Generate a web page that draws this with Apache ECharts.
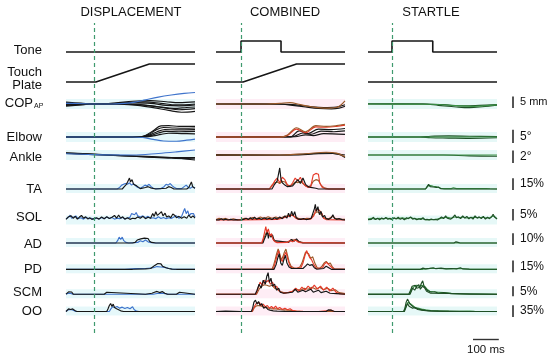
<!DOCTYPE html>
<html><head><meta charset="utf-8">
<script src="https://cdn.jsdelivr.net/npm/echarts@6/dist/echarts.min.js"></script>
<style>html,body{margin:0;padding:0;background:#fff}#c{width:550px;height:358px}</style>
</head><body><div id="c"></div>
<script>
// ---------------- labels ----------------
const panelTitles = ['DISPLACEMENT', 'COMBINED', 'STARTLE'];
const rowKeys = ['Tone', 'Plate', 'COP', 'Elbow', 'Ankle', 'TA', 'SOL', 'AD', 'PD', 'SCM', 'OO'];
const scaleRows = ['COP', 'Elbow', 'Ankle', 'TA', 'SOL', 'AD', 'PD', 'SCM', 'OO'];
const scaleValues = [5, 5, 2, 15, 5, 10, 15, 5, 35];
const scaleLabels = ['5 mm', '5°', '2°', '15%', '5%', '10%', '15%', '5%', '35%'];
const timeBarMs = 100;
const timeBarLabel = '100 ms';

// ---------------- DISPLACEMENT (time in ms from stimulus) ----------------
const disp_Tone = [[[-108,0],[392,0]]];
const disp_Plate = [[[-108,0],[8,0],[215,1],[392,1]]];
const disp_COP = [
  [[-108,0.8],[-50,0.4],[0,0],[80,0.4],[150,1.2],[220,1.5],[280,1.0],[330,0.6],[392,0.9]],
  [[-108,-0.6],[-50,-0.3],[0,0],[80,0.2],[150,0.5],[220,0.3],[280,-0.6],[330,-0.8],[392,-0.4]],
  [[-108,-0.9],[-50,-0.4],[0,0],[80,0],[150,-0.2],[220,-0.8],[280,-1.8],[330,-2.5],[392,-2.0]],
  [[-108,0.2],[-50,0.1],[0,0],[100,-0.1],[170,-0.6],[230,-1.6],[290,-2.8],[340,-3.6],[392,-3.2]],
  [[-108,-0.3],[0,0],[100,0.1],[180,-0.3],[250,-1.2],[310,-1.9],[360,-1.5],[392,-1.3]],
  [[-108,0.4],[0,0],[120,0.5],[200,0.9],[260,0.3],[320,-0.4],[392,0.0]],
  [[-108,0.3],[-60,0.2],[0,0],[60,0],[120,0.3],[160,0.8],[200,1.8],[250,3.0],[300,3.9],[350,4.6],[392,5.0]]
];
const disp_Elbow = [
  [[-108,0],[170,0],[200,0.6],[230,2.4],[260,4.2],[290,4.3],[330,4.0],[392,4.0]],
  [[-108,0],[175,0],[210,0.8],[240,2.6],[270,3.6],[310,3.4],[350,3.3],[392,3.4]],
  [[-108,0],[180,0],[215,0.7],[245,2.0],[275,2.8],[320,2.7],[392,2.8]],
  [[-108,0],[185,0],[220,0.5],[250,1.5],[280,2.1],[330,2.0],[392,2.1]],
  [[-108,0],[190,0],[230,0.4],[260,1.0],[290,1.4],[340,1.3],[392,1.2]],
  [[-108,0],[150,0],[190,-0.2],[230,-0.9],[270,-1.5],[320,-1.6],[360,-1.2],[392,-0.8]]
];
const disp_Ankle = [
  [[-108,0.3],[0,0.1],[100,-0.1],[200,-0.3],[300,-0.5],[392,-0.6]],
  [[-108,0.35],[0,0.15],[100,-0.05],[200,-0.2],[300,-0.4],[392,-0.8]],
  [[-108,0.25],[0,0.05],[150,-0.2],[250,-0.4],[392,-0.4]],
  [[-108,0.2],[0,0.05],[150,0],[250,0.25],[320,0.5],[392,0.8]]
];
const disp_TA = [
  [[-108,0],[90,0],[100,2],[108,5],[115,3],[122,7],[130,6],[138,8],[146,5],[154,7],[162,4],[170,2],[180,1],[190,3],[198,5],[206,4],[214,6],[222,3],[230,1],[240,0.5],[260,0.5],[272,3],[280,6],[288,5],[296,7],[304,4],[312,2],[320,0.5],[340,0.5],[350,3],[358,5],[366,2],[374,1],[382,3],[392,1]],
  [[-108,0],[110,0],[118,3],[126,6],[132,10],[138,14],[142,9],[148,12],[154,6],[160,8],[166,4],[172,2],[180,0.5],[200,2],[210,3],[220,1.5],[240,0],[280,1],[290,3],[300,2],[310,0],[360,0],[368,2],[374,4],[378,9],[383,3],[392,1]]
];
const disp_SOL = [
  [[-108,0.8],[-100,1.2],[-92,2.3],[-86,1.0],[-78,1.5],[-70,2.0],[-62,0.8],[-50,1.2],[-40,0.6],[-30,1.4],[-20,0.8],[-10,1.0],[0,0.6],[10,1.0],[20,0.7],[30,1.3],[40,0.8],[50,1.5],[60,0.9],[70,1.3],[80,0.6],[90,1.0],[100,0.8],[110,1.4],[120,0.7],[130,1.0],[140,1.4],[146,3.0],[152,3.8],[158,2.5],[164,3.5],[170,2.0],[180,1.5],[190,2.0],[200,1.2],[210,1.8],[220,1.0],[230,1.2],[240,0.8],[250,1.6],[260,0.9],[270,1.3],[280,0.8],[290,1.2],[300,0.9],[310,1.5],[320,2.0],[330,1.0],[340,1.8],[346,3.5],[352,5.2],[358,3.0],[364,4.2],[370,2.0],[376,3.0],[382,2.2],[386,3.0],[392,1.5]],
  [[-108,0.5],[-100,1.5],[-94,0.8],[-88,2.0],[-80,1.0],[-72,1.8],[-64,0.6],[-56,1.5],[-48,2.2],[-40,1.0],[-32,1.6],[-24,0.7],[-16,1.2],[-8,0.5],[0,0.8],[10,1.2],[20,0.6],[30,1.5],[40,0.8],[50,1.6],[60,0.9],[70,1.4],[80,2.2],[88,1.0],[96,2.4],[104,1.0],[112,1.6],[120,0.6],[130,1.2],[140,0.5],[150,1.0],[160,0.8],[170,1.5],[180,1.0],[190,1.8],[200,0.8],[210,1.4],[220,1.0],[228,3.0],[234,1.8],[240,3.8],[246,2.2],[254,3.0],[262,3.8],[268,2.0],[276,3.2],[282,1.5],[290,2.0],[298,1.2],[306,2.8],[314,2.2],[320,1.2],[330,1.8],[340,1.0],[350,1.6],[360,1.0],[368,2.4],[376,1.2],[384,2.0],[392,1.0]]
];
const disp_AD = [
  [[-108,0],[85,0],[92,2],[98,5],[104,3],[110,5],[116,2],[124,0.5],[135,0],[170,0.5],[180,2],[190,1],[200,2.5],[210,1],[222,0.3],[240,0],[392,0]],
  [[-108,0],[150,0],[160,0.5],[168,2.5],[174,1.2],[182,3.5],[188,2],[196,4.2],[202,2.5],[210,3.8],[216,1.5],[224,0.5],[240,0],[330,0],[336,1],[342,0],[370,0],[375,1.2],[380,0],[392,0]]
];
const disp_PD = [
  [[-108,0],[120,0],[160,0.8],[200,1],[230,2],[245,3.5],[260,3],[275,2.5],[290,1],[310,0],[392,0]],
  [[-108,0],[150,0],[200,0.5],[220,1],[228,3],[236,5],[242,4],[248,7.5],[254,5],[260,7],[266,4],[272,5.5],[280,2],[290,1],[302,0.3],[320,0],[392,0]]
];
const disp_SCM = [
  [[-108,0],[-100,0.5],[-90,0.4],[-80,0],[230,0],[250,0.5],[270,0.4],[290,0],[392,0]],
  [[-108,0],[-104,0.8],[-98,1.2],[-92,0.5],[-86,1.1],[-80,0],[0,0],[40,0],[45,0.8],[50,1.0],[55,0],[200,0],[225,0.5],[235,1.0],[245,1.4],[255,0.8],[265,1.3],[275,0.5],[285,0],[320,0],[325,0.8],[332,1.0],[338,0],[392,0]]
];
const disp_OO = [
  [[-108,0],[-100,5],[-90,6],[-80,4],[-70,0],[60,0],[66,8],[72,14],[80,12],[90,15],[100,10],[110,13],[120,9],[130,12],[140,8],[150,14],[156,6],[165,1],[175,0],[392,0]],
  [[-108,0],[-104,4],[-98,8],[-90,6],[-82,8],[-74,3],[-66,0],[50,0],[55,8],[60,18],[65,24],[70,15],[75,22],[80,12],[88,8],[96,5],[104,2],[115,0],[392,0]]
];

// ---------------- COMBINED ----------------
const comb_Tone = [[[-97,0],[0,0],[0,1],[155,1],[155,0],[403,0]]];
const comb_Plate = [[[-97,0],[8,0],[215,1],[403,1]]];
const comb_COP = [
  [[-97,0.1],[150,0],[200,-0.6],[250,-1.3],[300,-1.9],[350,-2.1],[380,-1.8],[403,-1.0]],
  [[-97,-0.1],[150,0],[200,-0.3],[260,-1.0],[320,-1.5],[370,-1.3],[403,-0.3]],
  [[-97,0],[100,0],[150,0.3],[190,0.6],[230,-0.3],[280,-1.3],[330,-1.8],[370,-1.5],[403,1.4]]
];
const comb_Elbow = [
  [[-97,0],[190,0],[225,2.3],[260,1.3],[300,3.0],[350,2.8],[403,3.2]],
  [[-97,0],[200,0.1],[240,1.5],[270,1.0],[310,2.2],[360,2.0],[403,2.3]],
  [[-97,0],[210,0.1],[250,0.8],[280,0.5],[320,1.3],[403,1.0]],
  [[-97,0],[150,0],[180,0.6],[215,3.0],[250,1.6],[290,3.8],[330,3.7],[370,4.0],[403,4.5]],
  [[-97,0],[150,0],[180,0.8],[215,3.5],[250,2.0],[290,4.3],[330,4.0],[370,4.3],[403,4.8]]
];
const comb_Ankle = [
  [[-97,0.05],[150,0],[250,0.15],[330,0.35],[380,0.1],[403,-0.4]],
  [[-97,-0.05],[200,0],[300,0.2],[360,0.25],[403,0.0]],
  [[-97,0],[150,0],[250,0.2],[330,0.45],[370,0.3],[403,-0.3]]
];
const comb_TA = [
  [[-97,0],[110,0],[120,5],[130,8],[140,9],[150,7],[160,10],[170,9],[180,5],[190,4],[200,6],[210,9],[220,8],[230,10],[240,7],[250,4],[260,3],[270,4],[280,10],[290,12],[300,11],[310,5],[320,2],[340,0],[403,0]],
  [[-97,0],[110,0],[120,4],[130,10],[140,14],[150,8],[160,15],[170,12],[180,5],[190,3],[200,8],[210,14],[220,10],[230,15],[240,8],[250,4],[260,2],[270,3],[280,18],[290,20],[300,19],[305,8],[315,2],[330,0],[403,0]],
  [[-97,0],[120,0],[130,6],[140,10],[150,27],[155,12],[160,8],[170,5],[180,3],[200,4],[210,8],[220,12],[230,7],[240,14],[250,6],[260,3],[270,2],[290,1],[300,0],[403,0]]
];
const comb_SOL = [
  [[-97,0.4],[-85,1.0],[-75,0.5],[-60,0.9],[-45,0.3],[-30,0.7],[-15,0.3],[0,0.5],[15,1.0],[30,0.6],[45,1.3],[60,0.8],[75,1.5],[90,0.9],[105,1.6],[120,1.0],[135,1.5],[150,0.9],[165,1.6],[180,2.0],[195,2.4],[210,1.6],[225,0.8],[240,0.6],[255,0.9],[270,0.8],[285,3.0],[295,3.8],[305,3.2],[315,2.0],[325,1.0],[340,0.8],[355,1.8],[365,1.0],[380,0.6],[403,0.5]],
  [[-97,0.2],[0,0.3],[140,0.5],[160,1.0],[175,1.5],[190,2.0],[200,2.5],[210,1.2],[220,0.5],[270,0.6],[282,2.0],[290,4.8],[296,5.2],[302,4.6],[308,5.0],[314,3.0],[320,1.0],[330,0.4],[403,0.3]],
  [[-97,0.3],[-90,1.0],[-84,0.3],[-76,0.8],[-68,0.2],[-60,0.6],[-50,0.2],[-40,0.5],[-30,0.2],[-20,0.4],[-10,0.2],[0,0.3],[10,0.5],[20,1.0],[28,0.4],[36,1.2],[44,0.5],[52,1.4],[60,0.6],[70,1.0],[80,0.5],[90,1.2],[100,0.6],[110,1.0],[120,0.4],[130,1.2],[140,0.6],[150,1.5],[160,0.8],[170,2.0],[178,1.0],[184,3.2],[190,1.5],[196,4.0],[202,2.0],[208,3.8],[214,1.2],[222,0.6],[232,0.5],[242,0.8],[252,0.4],[262,0.6],[272,1.0],[278,3.0],[284,5.0],[288,7.0],[292,4.0],[298,6.0],[304,2.5],[310,4.0],[316,1.5],[324,2.2],[330,0.8],[340,0.5],[350,1.2],[356,2.5],[362,1.0],[370,0.5],[380,0.8],[392,0.4],[403,0.3]]
];
const comb_AD = [
  [[-97,0],[82,0],[90,5],[98,9],[106,8],[114,7],[122,5],[130,2],[140,0.5],[180,0.8],[195,2.5],[210,2.8],[225,1.2],[240,0.3],[403,0]],
  [[-97,0],[85,0],[90,3],[96,6],[102,10],[106,4],[110,8],[116,5],[122,7],[128,2],[135,0.5],[185,0.5],[195,3],[205,1.5],[215,3.5],[225,1],[240,0],[403,0]],
  [[-97,0],[80,0],[86,4],[92,10],[96,14],[100,9],[106,12],[112,6],[118,8],[124,3],[132,1],[140,0.3],[180,0.5],[190,2],[200,1],[210,2.5],[220,1],[230,0.3],[403,0]]
];
const comb_PD = [
  [[-97,0],[120,0],[126,5],[132,12],[138,20],[144,26],[150,20],[156,12],[162,16],[168,22],[174,26],[180,18],[186,10],[194,4],[204,2],[215,1],[228,3],[236,8],[244,16],[250,22],[256,24],[262,20],[270,14],[278,16],[286,8],[295,2],[305,1],[314,4],[322,8],[330,10],[338,7],[346,8],[354,3],[362,0.5],[403,0]],
  [[-97,0],[125,0],[132,8],[140,18],[146,24],[152,14],[160,10],[168,18],[174,22],[182,12],[190,4],[200,1],[232,2],[240,8],[248,18],[254,24],[260,22],[266,15],[274,12],[282,6],[292,1],[316,2],[324,7],[332,9],[340,6],[350,3],[360,0],[403,0]],
  [[-97,0],[128,0],[136,6],[142,14],[148,20],[154,8],[160,5],[166,12],[172,18],[178,8],[186,3],[196,1],[240,1],[250,4],[258,7],[266,5],[276,6],[284,2],[294,0],[320,1],[330,4],[340,2],[350,0],[403,0]]
];
const comb_SCM = [
  [[-97,0],[60,0],[70,2.5],[80,4],[90,4.7],[100,4.5],[110,4],[120,4.5],[130,3],[140,2.5],[150,1.5],[165,0.8],[185,0.8],[200,1.5],[215,2.5],[230,2],[245,3],[260,2.5],[275,3.5],[290,2.5],[305,3.5],[320,2.2],[335,3],[350,1.8],[365,2.2],[380,0.8],[403,0.3]],
  [[-97,0],[58,0],[66,3],[74,6],[82,4.5],[90,7],[98,6],[106,7],[114,5],[122,6],[130,3.5],[138,4],[146,2],[155,1],[170,0.5],[200,1.5],[212,3],[224,1.5],[236,3.5],[248,2],[260,4],[272,2.5],[284,4.5],[296,2.5],[308,4],[320,2],[332,3.5],[344,1.5],[356,3],[368,1],[380,0.3],[403,0]],
  [[-97,0],[55,0],[62,2],[70,5],[78,3],[86,7],[94,5],[100,9],[105,10.8],[110,6],[116,8],[122,4],[130,5],[138,2],[146,3],[152,1],[165,0.5],[200,1],[210,2.5],[220,1],[240,2],[250,1.2],[270,2.5],[280,1],[300,2],[310,0.8],[330,1.5],[345,0.5],[370,0.3],[403,0]]
];
const comb_OO = [
  [[-97,0],[44,0],[50,10],[58,16],[66,18],[74,17],[82,15],[92,12],[102,11],[112,9],[124,8],[136,8],[150,6],[165,5],[180,4],[195,3],[210,1.5],[230,0.5],[403,0]],
  [[-97,0],[42,0],[48,8],[54,18],[60,25],[66,20],[72,26],[78,18],[86,22],[94,14],[102,18],[110,10],[118,15],[126,9],[134,16],[142,8],[150,12],[160,6],[170,10],[180,5],[190,8],[200,3],[215,1],[240,0.5],[300,0],[340,3],[350,4],[360,0],[403,0]],
  [[-97,0],[-60,1],[0,0],[40,0],[45,10],[50,28],[56,34],[62,22],[68,30],[74,18],[80,24],[88,10],[96,14],[104,6],[112,4],[125,2],[140,1],[170,0.5],[330,0],[338,5],[344,8],[350,4],[356,7],[362,0],[403,0]]
];

// ---------------- STARTLE ----------------
const start_Tone = [[[-93,0],[0,0],[0,1],[158,1],[158,0],[407,0]]];
const start_Plate = [[[-93,0],[407,0]]];
const start_COP = [
  [[-93,0],[120,0],[180,-0.6],[250,-1.3],[300,-1.6],[350,-1.2],[407,-0.5]],
  [[-93,0.1],[130,0],[200,-0.3],[280,-0.8],[340,-0.6],[407,-0.3]],
  [[-93,0],[150,-0.1],[250,-0.7],[320,-1.0],[407,-0.4]]
];
const start_Elbow = [
  [[-93,0],[110,0],[150,0.3],[220,0.4],[300,0.3],[407,0.2]],
  [[-93,0],[110,0],[150,-0.3],[220,-0.4],[300,-0.5],[407,-0.3]],
  [[-93,0],[407,0]]
];
const start_Ankle = [
  [[-93,0],[200,0],[300,-0.15],[407,-0.2]],
  [[-93,0],[407,0]]
];
const start_TA = [
  [[-93,0],[130,0],[140,4],[150,4.5],[160,3.5],[170,3],[180,2],[190,1],[205,0.5],[230,0.5],[238,1.5],[250,0.5],[300,0.5],[306,2],[315,0.5],[365,0.5],[370,1.2],[380,0.3],[407,0]],
  [[-93,0],[130,0],[136,3],[142,6],[148,3],[154,5],[160,2.5],[166,4],[172,2],[180,2.5],[188,0.5],[200,0],[230,0],[236,2],[242,0],[298,0],[304,2.5],[310,0],[360,0],[366,1.5],[372,0],[407,0]]
];
const start_SOL = [
  [[-93,0.6],[-80,1.0],[-65,0.6],[-50,1.0],[-35,0.7],[-20,1.1],[-5,0.6],[10,1.0],[25,0.8],[40,1.2],[55,0.7],[70,1.3],[85,0.8],[100,0.6],[115,0.9],[130,0.4],[150,0.4],[170,0.5],[185,0.8],[200,1.2],[215,1.4],[230,1.0],[245,1.6],[260,1.2],[275,1.5],[290,1.1],[305,1.3],[320,1.4],[335,1.2],[350,1.4],[365,1.1],[380,1.3],[392,2.0],[400,1.4],[407,0.8]],
  [[-93,0.4],[-86,1.2],[-80,0.5],[-72,1.4],[-64,0.4],[-56,1.0],[-48,0.3],[-40,1.1],[-32,0.6],[-24,1.3],[-16,0.5],[-8,1.0],[0,0.4],[8,1.2],[16,0.6],[24,1.4],[32,0.5],[40,1.0],[48,0.3],[56,1.2],[64,0.8],[72,1.6],[80,0.6],[88,1.0],[96,0.3],[104,0.8],[112,0.4],[120,1.2],[128,0.3],[136,0.5],[144,0.2],[152,0.6],[160,0.3],[168,0.5],[176,0.2],[184,0.9],[192,1.5],[200,0.8],[208,2.0],[214,1.0],[220,1.8],[228,0.6],[236,1.4],[244,2.4],[250,1.2],[258,1.6],[266,0.8],[274,2.0],[282,1.0],[290,1.8],[298,0.7],[306,1.4],[314,0.6],[322,2.0],[330,1.0],[338,1.6],[346,0.8],[354,1.8],[362,0.6],[370,1.4],[378,0.8],[386,1.6],[392,2.7],[398,1.5],[407,0.6]]
];
const start_AD = [
  [[-93,0],[407,0]],
  [[-93,0],[240,0],[248,1],[256,0.5],[264,0],[407,0]]
];
const start_PD = [
  [[-93,0],[120,0],[150,1],[180,1],[220,0.6],[260,1],[300,0],[407,0]],
  [[-93,0],[110,0],[120,1.5],[130,0.5],[145,1.2],[160,2],[170,0.8],[190,1.5],[210,0.6],[230,1],[250,0.5],[265,2],[275,0.5],[300,0.3],[407,0]]
];
const start_SCM = [
  [[-93,0],[68,0],[76,2.5],[86,3.8],[96,4.5],[106,3.8],[116,4.5],[126,4],[136,2.5],[146,1.5],[160,1.2],[180,1],[200,0.8],[230,0.4],[260,0.2],[407,0]],
  [[-93,0],[70,0],[80,3],[88,2],[96,4],[104,4.8],[110,2.5],[118,4],[126,3.2],[134,1.5],[150,0.5],[407,0]],
  [[-93,0],[65,0],[72,2],[78,4],[84,3],[90,4.5],[96,3],[102,4],[108,3.5],[114,5.5],[119,6.7],[124,4],[130,5],[136,2],[144,1.5],[152,1],[165,1.2],[180,0.5],[200,0.8],[230,0.3],[300,0],[407,0]]
];
const start_OO = [
  [[-93,0],[46,0],[54,14],[62,28],[70,24],[80,18],[90,12],[100,10],[115,7],[130,5],[150,3],[180,2],[220,1],[260,0.5],[300,1],[320,0.5],[407,0]],
  [[-93,0],[48,0],[54,12],[60,24],[66,16],[72,20],[80,10],[90,12],[100,6],[115,4],[140,2],[200,0],[407,0]],
  [[-93,0],[45,0],[50,10],[55,28],[60,37],[65,30],[70,22],[76,26],[82,14],[90,10],[100,8],[110,6],[120,4],[135,3],[150,2],[300,0],[305,3],[310,0],[407,0]]
];

// ---------------- styles & layout (not data) ----------------
const palette = { k:'#161616', b:'#3f74cc', r:'#e63b2a', n:'#9b5a2a', g:'#1e4f25', G:'#3c9248' };
const panelStyle = [
  { Tone:'k', Plate:'k', COP:'kkkkkkb', Elbow:'kkkkkb', Ankle:'kkkb', TA:'bk', SOL:'bk', AD:'bk', PD:'bk', SCM:'bk', OO:'bk' },
  { Tone:'k', Plate:'k', COP:'kkn', Elbow:'kkkrn', Ankle:'kkn', TA:'nrk', SOL:'nrk', AD:'nkr', PD:'nrk', SCM:'nrk', OO:'nrk' },
  { Tone:'k', Plate:'k', COP:'ggG', Elbow:'ggG', Ankle:'gG', TA:'Gg', SOL:'Gg', AD:'Gg', PD:'Gg', SCM:'Ggg', OO:'Ggg' }
];
const bandColor = ['rgba(200,240,245,0.45)', 'rgba(252,215,232,0.45)', 'rgba(200,240,238,0.45)'];
const panelLayout = [
  { left:66, width:129, xmin:-108, xmax:392 },
  { left:216, width:129, xmin:-97, xmax:403 },
  { left:368, width:129, xmin:-93, xmax:407 }
];
const rowLayout = {
  Tone:{base:52, ppu:11, up:14, down:4},
  Plate:{base:82, ppu:18, up:22, down:4},
  COP:{base:104, ppu:2.3, up:14, down:12, off:4, smooth:true},
  Elbow:{base:137, ppu:2.65, up:16, down:8, off:6, smooth:true},
  Ankle:{base:155, ppu:6.2, up:8, down:8, off:8, smooth:true},
  TA:{base:189, ppu:0.78, up:26, down:4, off:1},
  SOL:{base:220.5, ppu:2.3, up:18, down:4, off:0},
  AD:{base:243, ppu:1.17, up:20, down:4, off:2},
  PD:{base:269.3, ppu:0.78, up:24, down:4, off:3},
  SCM:{base:294.2, ppu:2, up:24, down:4, off:2},
  OO:{base:311.5, ppu:0.334, up:16, down:4, off:5.5}
};
const rowTextY = { Tone:50, COP:103, Elbow:137, Ankle:157, TA:189, SOL:217.5, AD:244, PD:269.5, SCM:292, OO:311.5 };

const DATA = [
  { Tone:disp_Tone, Plate:disp_Plate, COP:disp_COP, Elbow:disp_Elbow, Ankle:disp_Ankle, TA:disp_TA, SOL:disp_SOL, AD:disp_AD, PD:disp_PD, SCM:disp_SCM, OO:disp_OO },
  { Tone:comb_Tone, Plate:comb_Plate, COP:comb_COP, Elbow:comb_Elbow, Ankle:comb_Ankle, TA:comb_TA, SOL:comb_SOL, AD:comb_AD, PD:comb_PD, SCM:comb_SCM, OO:comb_OO },
  { Tone:start_Tone, Plate:start_Plate, COP:start_COP, Elbow:start_Elbow, Ankle:start_Ankle, TA:start_TA, SOL:start_SOL, AD:start_AD, PD:start_PD, SCM:start_SCM, OO:start_OO }
];

const FONT = '"Liberation Sans", Arial, Helvetica, sans-serif';
const grid = [], xAxis = [], yAxis = [], series = [];
const gridIndex = {};
panelLayout.forEach((P, p) => {
  rowKeys.forEach(key => {
    const R = rowLayout[key];
    const gi = grid.length;
    gridIndex[p + '_' + key] = gi;
    grid.push({ left:P.left, width:P.width, top:R.base - R.up, height:R.up + R.down });
    xAxis.push({ gridIndex:gi, type:'value', min:P.xmin, max:P.xmax, show:false });
    yAxis.push({ gridIndex:gi, type:'value', min:-R.down / R.ppu, max:R.up / R.ppu, show:false });
    const traces = DATA[p][key];
    const codes = panelStyle[p][key];
    traces.forEach((tr, i) => {
      const isStep = key === 'Tone' || key === 'Plate';
      const s = {
        type:'line', xAxisIndex:gi, yAxisIndex:gi, data:tr, symbol:'none', showSymbol:false,
        clip:false, silent:true, animation:false, smooth: R.smooth ? 0.35 : false,
        lineStyle:{ color:palette[codes[i]], width: isStep ? 1.6 : 1.15 }, z: 3
      };
      if (i === 0 && !isStep) {
        const h = 5;
        s.markArea = { silent:true, itemStyle:{ color:bandColor[p] },
          data:[[{ yAxis:-h / R.ppu }, { yAxis:h / R.ppu }]] };
      }
      series.push(s);
    });
  });
  // stimulus onset line grid
  const gi = grid.length;
  gridIndex[p + '_stim'] = gi;
  grid.push({ left:P.left, width:P.width, top:23, height:310 });
  xAxis.push({ gridIndex:gi, type:'value', min:P.xmin, max:P.xmax, show:false });
  yAxis.push({ gridIndex:gi, type:'value', min:0, max:1, show:false });
  series.push({ type:'line', xAxisIndex:gi, yAxisIndex:gi, data:[[0,0]], symbol:'none', silent:true, animation:false, z:4,
    markLine:{ silent:true, symbol:['none','none'], label:{show:false}, animation:false,
      lineStyle:{ color:'#3f9a6e', type:[4,3], width:1.2 }, data:[{ xAxis:0 }] } });
});

const chart = echarts.init(document.getElementById('c'), null, { renderer:'canvas' });
chart.setOption({ animation:false, backgroundColor:'#ffffff', grid, xAxis, yAxis, series });

// ---------------- graphic texts & scale bars ----------------
const g = [];
function txt(text, x, y, size, align, extra) {
  g.push(Object.assign({ type:'text', x, y, silent:true, z:10,
    style:{ text, font: size + 'px ' + FONT, fill:'#111', align, verticalAlign:'middle', textAlign:align, textVerticalAlign:'middle' } }, extra || {}));
}
const titleX = [131, 285, 431];
panelTitles.forEach((t, i) => txt(t, titleX[i], 12.5, 13, 'center'));
txt('Tone', 42, rowTextY.Tone, 13, 'right');
txt('Touch', 42, 72, 13, 'right');
txt('Plate', 42, 85.5, 13, 'right');
txt('COP', 33, rowTextY.COP, 13, 'right');
txt('AP', 34, 106, 7, 'left');
['Elbow','Ankle','TA','SOL','AD','PD','SCM','OO'].forEach(k => txt(k, 42, rowTextY[k], 13, 'right'));

const barX = 513;
scaleRows.forEach((key, i) => {
  const gi = gridIndex['2_' + key];
  const R = rowLayout[key];
  const p0 = chart.convertToPixel({ gridIndex:gi }, [0, 0]);
  const p1 = chart.convertToPixel({ gridIndex:gi }, [0, scaleValues[i]]);
  const len = p0[1] - p1[1];
  const bottom = p0[1] + R.off;
  const top = bottom - len;
  g.push({ type:'line', silent:true, z:10, shape:{ x1:barX, y1:top, x2:barX, y2:bottom }, style:{ stroke:'#555', lineWidth:2 } });
  txt(scaleLabels[i], 520, (top + bottom) / 2, key === 'COP' ? 11 : 12, 'left');
});
// time scale bar
{
  const gi = gridIndex['2_OO'];
  const a = chart.convertToPixel({ gridIndex:gi }, [314, 0]);
  const b = chart.convertToPixel({ gridIndex:gi }, [314 + timeBarMs, 0]);
  g.push({ type:'line', silent:true, z:10, shape:{ x1:a[0], y1:339.5, x2:b[0], y2:339.5 }, style:{ stroke:'#333', lineWidth:1.4 } });
  txt(timeBarLabel, (a[0] + b[0]) / 2, 350, 11.5, 'center');
}
chart.setOption({ graphic:{ elements:g } });
</script></body></html>
